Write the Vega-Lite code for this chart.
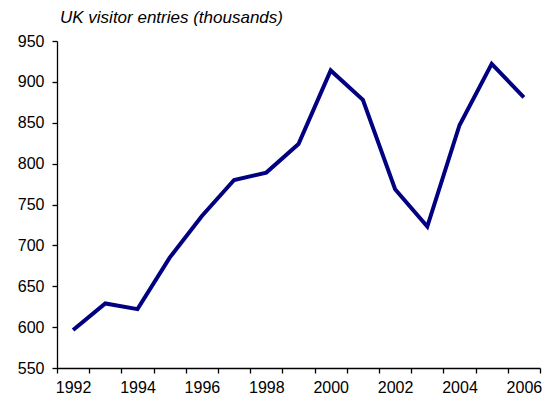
{
  "$schema": "https://vega.github.io/schema/vega-lite/v6.json",
  "autosize": "none",
  "width": 483,
  "height": 327,
  "padding": {"left": 57, "top": 41, "right": 7, "bottom": 32},
  "background": "white",
  "title": {
    "text": "UK visitor entries (thousands)",
    "anchor": "start",
    "frame": "group",
    "font": "Liberation Sans",
    "fontSize": 17,
    "fontStyle": "italic",
    "fontWeight": "normal",
    "color": "black",
    "dx": 3,
    "offset": 6
  },
  "data": {
    "values": [
      {"year": "1992", "entries": 596.5},
      {"year": "1993", "entries": 629},
      {"year": "1994", "entries": 622},
      {"year": "1995", "entries": 685},
      {"year": "1996", "entries": 736},
      {"year": "1997", "entries": 780},
      {"year": "1998", "entries": 789},
      {"year": "1999", "entries": 824},
      {"year": "2000", "entries": 914},
      {"year": "2001", "entries": 878},
      {"year": "2002", "entries": 768.6},
      {"year": "2003", "entries": 723},
      {"year": "2004", "entries": 847},
      {"year": "2005", "entries": 922},
      {"year": "2006", "entries": 881}
    ]
  },
  "mark": {"type": "line", "color": "#000080", "strokeWidth": 4, "strokeJoin": "miter", "strokeCap": "butt"},
  "encoding": {
    "x": {
      "field": "year",
      "type": "ordinal",
      "scale": {"type": "band", "paddingInner": 0, "paddingOuter": 0},
      "axis": {
        "title": null,
        "labelAngle": 0,
        "tickBand": "extent",
        "labelExpr": "toNumber(datum.value) % 2 === 0 ? datum.label : ''",
        "labelFont": "Liberation Sans",
        "labelFontSize": 16,
        "labelColor": "black",
        "labelPadding": 6,
        "domainColor": "black",
        "domainWidth": 1.3,
        "tickColor": "black",
        "tickWidth": 1.3,
        "tickSize": 5,
        "grid": false
      }
    },
    "y": {
      "field": "entries",
      "type": "quantitative",
      "scale": {"domain": [550, 950], "nice": false, "zero": false},
      "axis": {
        "title": null,
        "values": [550, 600, 650, 700, 750, 800, 850, 900, 950],
        "labelFont": "Liberation Sans",
        "labelFontSize": 16,
        "labelColor": "black",
        "labelPadding": 8,
        "domainColor": "black",
        "domainWidth": 1.3,
        "tickColor": "black",
        "tickWidth": 1.3,
        "tickSize": 5,
        "grid": false
      }
    }
  },
  "config": {"view": {"stroke": null}}
}
